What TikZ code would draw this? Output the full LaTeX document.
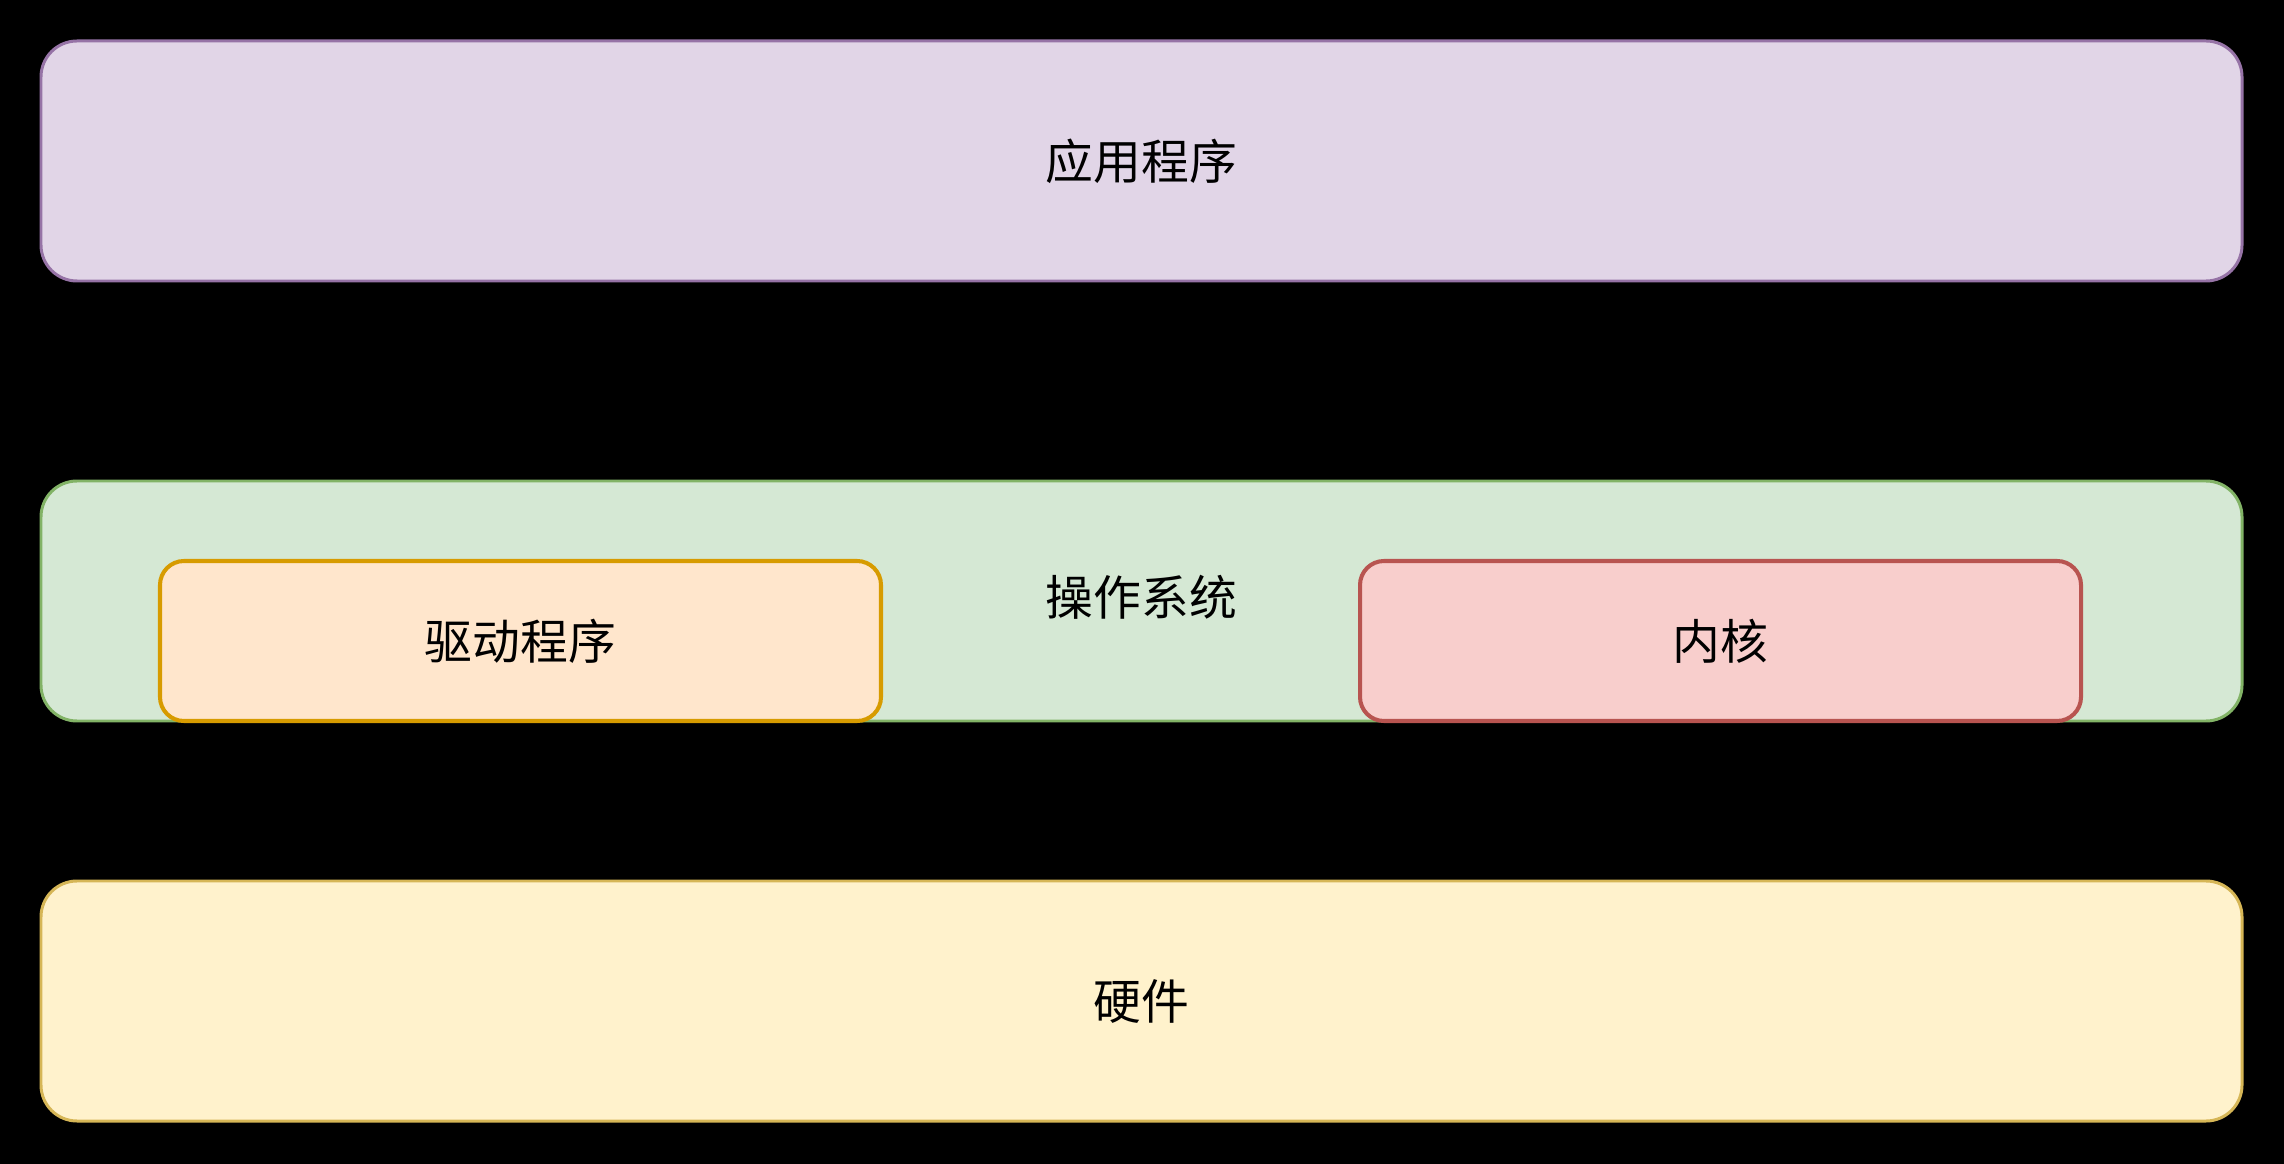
\documentclass[tikz,border=0pt]{standalone}
\usepackage{fontspec}
\setmainfont{Noto Sans CJK SC}
\begin{document}
\begin{tikzpicture}[
      capa/.style={draw, line width=0.85pt, rounded corners=0.36cm, align=center,
                   font=\fontsize{13.6pt}{16pt}\selectfont, inner sep=0pt,
                   minimum width=22.01cm, minimum height=2.4cm},
      modulo/.style={draw, line width=1.15pt, rounded corners=0.24cm, align=center,
                     font=\fontsize{13.6pt}{16pt}\selectfont, inner sep=0pt,
                     minimum width=7.21cm, minimum height=1.6cm}
    ]
    \fill[black] (0,0) rectangle (22.84,-11.64);
    \useasboundingbox (0,0) rectangle (22.84,-11.64);

    \node[capa, fill={rgb,255:red,225;green,213;blue,231}, draw={rgb,255:red,150;green,115;blue,166}]
      (app) at (11.415,-1.61) {应用程序};
    \node[capa, fill={rgb,255:red,213;green,232;blue,212}, draw={rgb,255:red,130;green,179;blue,102}]
      (so) at (11.415,-6.01) {};
    \node (sotxt) at (11.415,-5.97) [font=\fontsize{13.6pt}{16pt}\selectfont] {操作系统};
    \node[capa, fill={rgb,255:red,255;green,242;blue,204}, draw={rgb,255:red,214;green,182;blue,86}]
      (hw) at (11.415,-10.01) {硬件};

    \node[modulo, fill={rgb,255:red,255;green,230;blue,204}, draw={rgb,255:red,215;green,155;blue,0}]
      (drv) at (5.205,-6.41) {驱动程序};
    \node[modulo, fill={rgb,255:red,248;green,206;blue,204}, draw={rgb,255:red,184;green,84;blue,80}]
      (kern) at (17.205,-6.41) {内核};
  \end{tikzpicture}
\end{document}
